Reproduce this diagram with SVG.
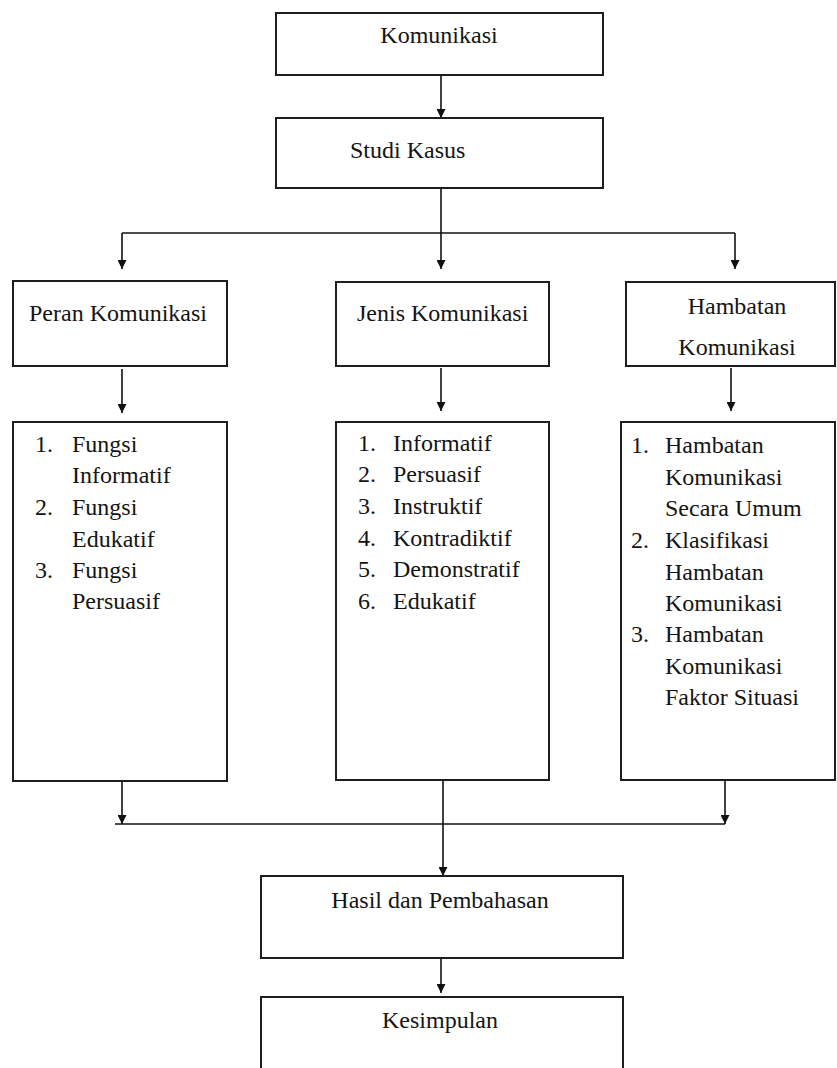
<svg xmlns="http://www.w3.org/2000/svg" width="837" height="1068" viewBox="0 0 837 1068">
<style>
.box{fill:#ffffff;stroke:#1e1e1e;stroke-width:2}
.t{font-family:"Liberation Serif","Times New Roman",serif;font-size:24px;fill:#141414}
.m{text-anchor:middle}
.ln{fill:none;stroke:#111111;stroke-width:1.6}
.ar{marker-end:url(#ah)}
</style>
<defs>
<marker id="ah" viewBox="0 0 10 10" refX="10" refY="5" markerWidth="10" markerHeight="9" orient="auto" markerUnits="userSpaceOnUse">
<path d="M0,0 L10,5 L0,10 z" fill="#111111"/>
</marker>
</defs>
<rect width="837" height="1068" fill="#ffffff"/>

<g id="connectors">
<line class="ln ar" x1="441" y1="75" x2="441" y2="118"/>
<line class="ln" x1="441" y1="188" x2="441" y2="233"/>
<line class="ln" x1="122" y1="233" x2="735" y2="233"/>
<line class="ln ar" x1="122" y1="233" x2="122" y2="269"/>
<line class="ln ar" x1="441" y1="233" x2="441" y2="269"/>
<line class="ln ar" x1="735" y1="233" x2="735" y2="269"/>
<line class="ln ar" x1="122" y1="369" x2="122" y2="413"/>
<line class="ln ar" x1="441" y1="368" x2="441" y2="411"/>
<line class="ln ar" x1="731" y1="368" x2="731" y2="411"/>
<line class="ln ar" x1="122" y1="781" x2="122" y2="824"/>
<line class="ln ar" x1="725" y1="781" x2="725" y2="824"/>
<line class="ln" x1="115" y1="824" x2="725" y2="824"/>
<line class="ln ar" x1="443" y1="781" x2="443" y2="876"/>
<line class="ln ar" x1="441" y1="958" x2="441" y2="993"/>
</g>

<g id="komunikasi">
<rect class="box" x="276" y="13" width="327" height="62"/>
<text class="t m" x="439" y="43">Komunikasi</text>
</g>

<g id="studi-kasus">
<rect class="box" x="276" y="118" width="327" height="70"/>
<text class="t" x="350" y="158">Studi Kasus</text>
</g>

<g id="peran-komunikasi">
<rect class="box" x="13" y="281" width="214" height="85"/>
<text class="t" x="29" y="321">Peran Komunikasi</text>
</g>

<g id="jenis-komunikasi">
<rect class="box" x="336" y="282" width="213" height="84"/>
<text class="t" x="357" y="321">Jenis Komunikasi</text>
</g>

<g id="hambatan-komunikasi">
<rect class="box" x="626" y="282" width="209" height="84"/>
<text class="t m" x="737" y="314">Hambatan</text>
<text class="t m" x="737" y="355">Komunikasi</text>
</g>

<g id="peran-list">
<rect class="box" x="13" y="422" width="214" height="359"/>
<text class="t" x="35" y="452">1.</text>
<text class="t" x="72" y="452">Fungsi</text>
<text class="t" x="72" y="483">Informatif</text>
<text class="t" x="35" y="515">2.</text>
<text class="t" x="72" y="515">Fungsi</text>
<text class="t" x="72" y="547">Edukatif</text>
<text class="t" x="35" y="578">3.</text>
<text class="t" x="72" y="578">Fungsi</text>
<text class="t" x="72" y="609">Persuasif</text>
</g>

<g id="jenis-list">
<rect class="box" x="336" y="422" width="213" height="358"/>
<text class="t" x="358" y="451">1.</text>
<text class="t" x="393" y="451">Informatif</text>
<text class="t" x="358" y="482">2.</text>
<text class="t" x="393" y="482">Persuasif</text>
<text class="t" x="358" y="514">3.</text>
<text class="t" x="393" y="514">Instruktif</text>
<text class="t" x="358" y="546">4.</text>
<text class="t" x="393" y="546">Kontradiktif</text>
<text class="t" x="358" y="577">5.</text>
<text class="t" x="393" y="577">Demonstratif</text>
<text class="t" x="358" y="609">6.</text>
<text class="t" x="393" y="609">Edukatif</text>
</g>

<g id="hambatan-list">
<rect class="box" x="621" y="422" width="214" height="358"/>
<text class="t" x="631" y="453">1.</text>
<text class="t" x="665" y="453">Hambatan</text>
<text class="t" x="665" y="485">Komunikasi</text>
<text class="t" x="665" y="516">Secara Umum</text>
<text class="t" x="631" y="548">2.</text>
<text class="t" x="665" y="548">Klasifikasi</text>
<text class="t" x="665" y="580">Hambatan</text>
<text class="t" x="665" y="611">Komunikasi</text>
<text class="t" x="631" y="642">3.</text>
<text class="t" x="665" y="642">Hambatan</text>
<text class="t" x="665" y="674">Komunikasi</text>
<text class="t" x="665" y="705">Faktor Situasi</text>
</g>

<g id="hasil-pembahasan">
<rect class="box" x="261" y="876" width="362" height="82"/>
<text class="t m" x="440" y="908">Hasil dan Pembahasan</text>
</g>

<g id="kesimpulan">
<rect class="box" x="261" y="997" width="362" height="90"/>
<text class="t m" x="440" y="1028">Kesimpulan</text>
</g>
</svg>
